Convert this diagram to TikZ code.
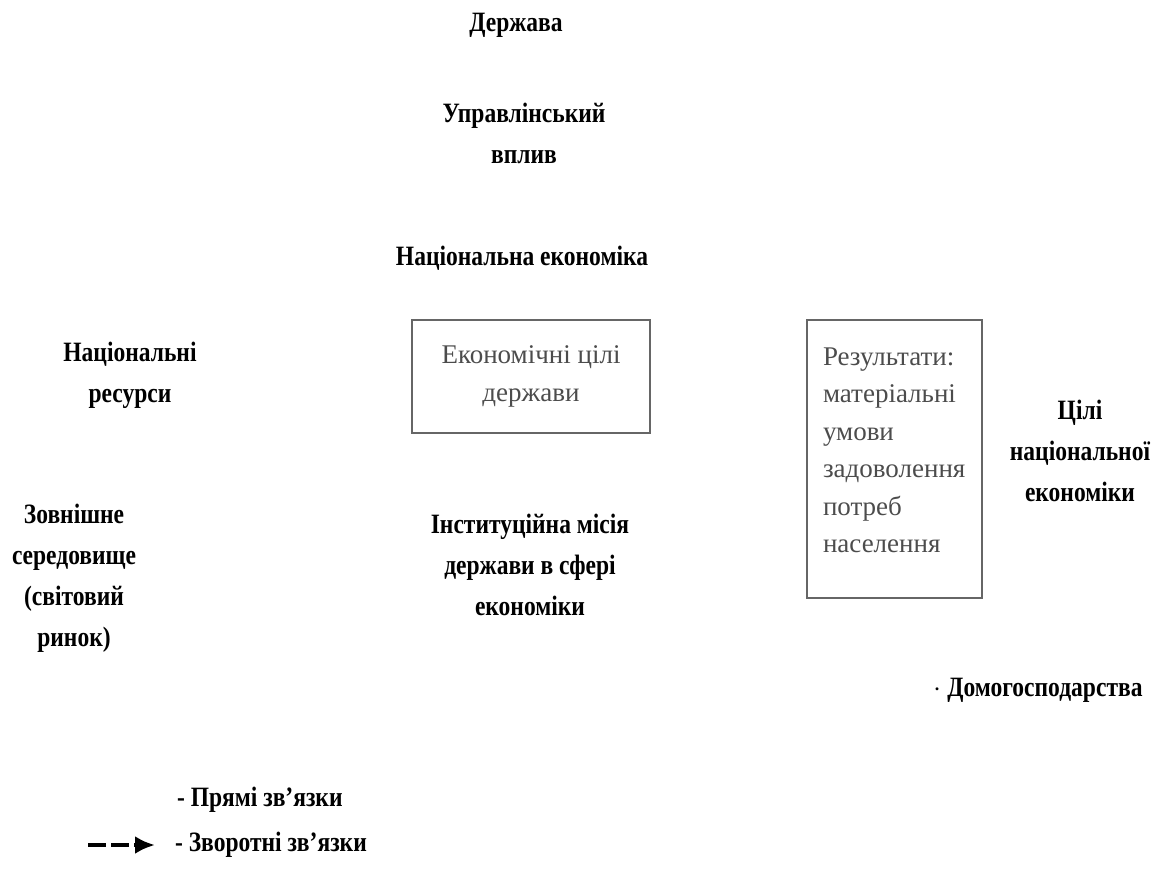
\documentclass[tikz,border=0pt]{standalone}
\usepackage{fontspec}
\setmainfont{Liberation Serif}
\newfontfamily\condfont{Liberation Serif}[FakeStretch=0.84]
\usepackage{tikz}
\usetikzlibrary{arrows.meta}

\begin{document}
\begin{tikzpicture}[x=0.5pt, y=-0.5pt,
		headtext/.style={align=center, font=\condfont\bfseries\fontsize{14}{20.5}\selectfont},
		goalbox/.style={draw=black!60, line width=0.8pt, inner sep=0pt},
		boxtext/.style={text=black!70, inner sep=0pt, font=\fontsize{13.5}{18.75}\selectfont}]
		\useasboundingbox (0,0) rectangle (1160,875);

		% State and its influence
		\node[headtext] (state) at (516,25) {Держава};
		\node[headtext] (influence) at (524,133) {Управлінський\\вплив};
		\node[headtext] (nateco) at (522,258) {Національна економіка};

		% Left column
		\node[headtext] (resources) at (130,375) {Національні\\ресурси};
		\node[headtext] (outside) at (74,578) {Зовнішне\\середовище\\(світовий\\ринок)};

		% Boxes
		\node[goalbox, boxtext, minimum width=119pt, minimum height=56.5pt, align=center] (stategoals) at (531,376.5) {Економічні цілі\\держави};
		\node[goalbox, minimum width=87.5pt, minimum height=139pt] (results) at (894.5,459) {};
		\node[boxtext, text width=71.5pt, align=left] (resultstext) at (894.5,450.5) {Результати:\\матеріальні\\умови\\задоволення\\потреб\\населення};

		% Middle and right texts
		\node[headtext] (mission) at (530,565) {Інституційна місія\\держави в сфері\\економіки};
		\node[headtext] (ecogoals) at (1080,451) {Цілі\\національної\\економіки};
		\node[headtext] (households) at (1038,690) {$\cdot$ Домогосподарства};

		% Legend
		\node[headtext, anchor=west] (direct) at (170,800) {- Прямі зв’язки};
		\node[headtext, anchor=west] (feedback) at (168,845) {- Зворотні зв’язки};
		\coordinate (fbstart) at (88,845);
		\coordinate (fbend) at (155,845);
		\draw[line width=2pt, dash pattern=on 9pt off 2.5pt, -{Latex[length=10pt,width=9pt]}] (fbstart) -- (fbend);
	\end{tikzpicture}
\end{document}
